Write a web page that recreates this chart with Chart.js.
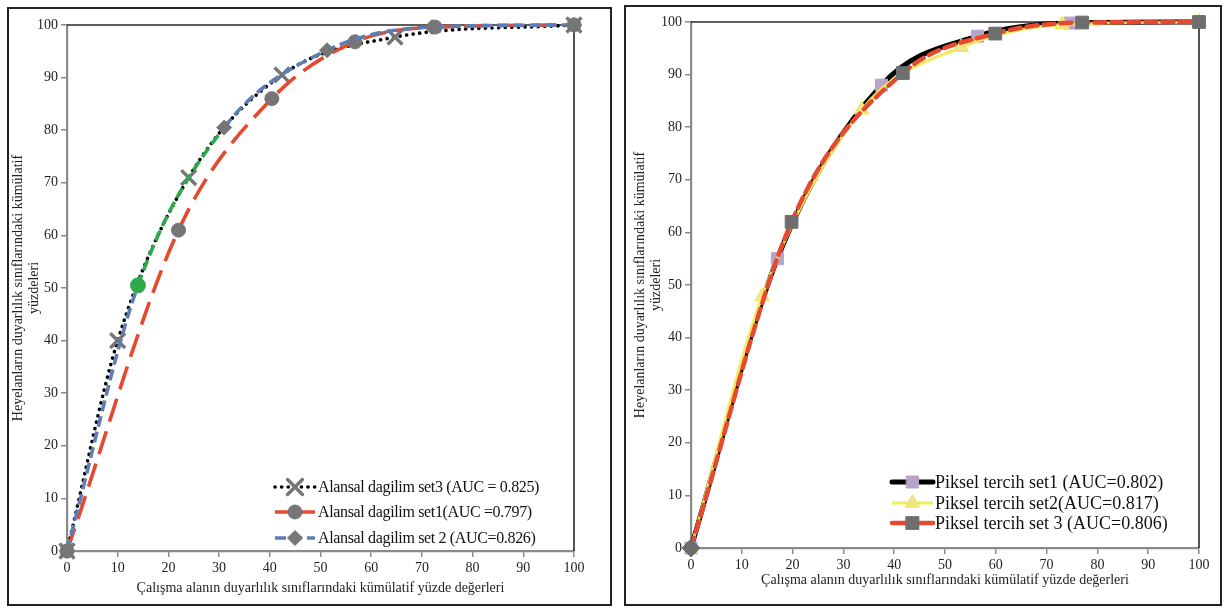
<!DOCTYPE html>
<html>
<head>
<meta charset="utf-8">
<script src="https://cdn.jsdelivr.net/npm/chart.js@4.4.0/dist/chart.umd.min.js"></script>
<style>
  body { margin: 0; background: #fff; width: 1225px; height: 608px; position: relative; overflow: hidden; }
  .panel { position: absolute; border: 2px solid #222; box-sizing: border-box; background: #fff; }
  #left { left: 7px; top: 7px; width: 605px; height: 599px; }
  #right { left: 624px; top: 5px; width: 598px; height: 601px; }
  .panel canvas { position: absolute; left: 0; top: 0; }
</style>
</head>
<body>
<div class="panel" id="left"><canvas id="c1"></canvas></div>
<div class="panel" id="right"><canvas id="c2"></canvas></div>
<script>
// tick values shared by both charts
const tickMin = 0;
const tickMax = 100;
const tickStep = 10;

const yTitleLines = ["Heyelanların duyarlılık sınıflarındaki kümülatif", "yüzdeleri"];
const xTitle = "Çalışma alanın duyarlılık sınıflarındaki kümülatif yüzde değerleri";

// left chart - Alansal dagilim
const leftLabels = ["Alansal dagilim set3 (AUC = 0.825)", "Alansal dagilim set1(AUC =0.797)", "Alansal dagilim set 2 (AUC=0.826)"];
const aSet3X = [0, 10, 24, 42.4, 64.7, 100];
const aSet3Y = [0, 40, 71, 90.5, 97.7, 100];
const aSet1X = [0, 22, 40.4, 56.8, 72.6, 100];
const aSet1Y = [0, 61, 86, 96.8, 99.6, 100];
const aSet2X = [0, 14, 31, 51.3, 72, 100];
const aSet2Y = [0, 50.5, 80.5, 95.2, 99.6, 100];

// right chart - Piksel tercih
const rightLabels = ["Piksel tercih set1 (AUC=0.802)", "Piksel tercih set2(AUC=0.817)", "Piksel tercih set 3 (AUC=0.806)"];
const pSet1X = [0, 17, 37.5, 56.4, 74.7, 100];
const pSet1Y = [0, 55, 88, 97.3, 99.8, 100];
const pSet2X = [0, 14, 33.6, 53.2, 73.1, 100];
const pSet2Y = [0, 47.8, 83.3, 95.2, 99.5, 100];
const pSet3X = [0, 19.8, 41.7, 59.9, 77, 100];
const pSet3Y = [0, 62, 90.3, 97.8, 99.9, 100];

const serif = "'Liberation Serif', 'Times New Roman', serif";
const axisGray = "#8a8a8a";
const red = "#e5492f";
const blue = "#5f7db5";
const green = "#2fa84c";
const markerGray = "#767676";

function pts(xs, ys) {
  return xs.map((x, i) => ({ x: x, y: ys[i] }));
}

// top + right frame of the plot area, drawn in black
const frameLines = {
  id: "frameLines",
  beforeDatasetsDraw(chart) {
    const a = chart.chartArea;
    const ctx = chart.ctx;
    ctx.save();
    ctx.strokeStyle = "#2a2a2a";
    ctx.lineWidth = 1.6;
    ctx.beginPath();
    ctx.moveTo(a.left, a.top);
    ctx.lineTo(a.right, a.top);
    ctx.lineTo(a.right, a.bottom);
    ctx.stroke();
    ctx.restore();
  }
};

// legend drawn inside the plot area, like the original figure
const insideLegend = {
  id: "insideLegend",
  afterDraw(chart, args, opts) {
    const ctx = chart.ctx;
    const a = chart.chartArea;
    ctx.save();
    chart.data.datasets.forEach((ds, i) => {
      const y = a.bottom + opts.rows[i];
      const x0 = a.left + opts.lineFrom;
      const x1 = a.left + opts.lineTo;
      ctx.strokeStyle = ds.borderColor;
      ctx.lineWidth = ds.borderWidth;
      ctx.lineCap = ds.borderCapStyle || "butt";
      ctx.setLineDash(ds.legendDash || ds.borderDash || []);
      ctx.beginPath();
      ctx.moveTo(x0, y);
      ctx.lineTo(x1, y);
      ctx.stroke();
      ctx.setLineDash([]);
      const style = Array.isArray(ds.pointStyle) ? ds.pointStyle[0] : ds.pointStyle;
      const bg = Array.isArray(ds.pointBackgroundColor) ? ds.pointBackgroundColor[0] : ds.pointBackgroundColor;
      const bc = Array.isArray(ds.pointBorderColor) ? ds.pointBorderColor[0] : ds.pointBorderColor;
      ctx.fillStyle = bg;
      ctx.strokeStyle = bc;
      ctx.lineWidth = ds.pointBorderWidth;
      Chart.helpers.drawPoint(ctx, { pointStyle: ds.legendStyle || style, radius: ds.pointRadius, rotation: 0, borderWidth: ds.pointBorderWidth }, (x0 + x1) / 2, y);
      ctx.fillStyle = "#111";
      ctx.font = opts.font;
      if ("letterSpacing" in ctx) ctx.letterSpacing = opts.spacing || "0px";
      ctx.textAlign = "left";
      ctx.textBaseline = "middle";
      ctx.fillText(ds.label, a.left + opts.textX, y + 1);
      if ("letterSpacing" in ctx) ctx.letterSpacing = "0px";
    });
    ctx.restore();
  }
};

function scales(yWidth, xHeight, yTitlePad) {
  const tickFont = { family: serif, size: 14 };
  const titleFont = { family: serif, size: 14, lineHeight: 1.1 };
  const grid = { drawOnChartArea: false, drawTicks: true, tickLength: 6, color: axisGray, lineWidth: 1.5 };
  const border = { color: axisGray, width: 2.2 };
  return {
    x: {
      type: "linear", min: tickMin, max: tickMax,
      ticks: { stepSize: tickStep, font: tickFont, color: "#1e1e1e", padding: 3, maxRotation: 0 },
      grid: grid, border: border,
      title: { display: true, text: xTitle, font: titleFont, color: "#222", padding: { top: 0, bottom: 2.6 } },
      afterFit(s) { s.height = xHeight; }
    },
    y: {
      type: "linear", min: tickMin, max: tickMax,
      ticks: { stepSize: tickStep, font: tickFont, color: "#1e1e1e", padding: 3 },
      grid: grid, border: border,
      title: { display: true, text: yTitleLines, font: titleFont, color: "#222", padding: { top: yTitlePad, bottom: 0 } },
      afterFit(s) { s.width = yWidth; }
    }
  };
}

const common = {
  responsive: false,
  animation: false,
  plugins: { legend: { display: false }, tooltip: { enabled: false } }
};

function sizeCanvas(id, w, h) {
  const c = document.getElementById(id);
  c.width = w; c.height = h;
  c.style.width = w + "px"; c.style.height = h + "px";
  return c;
}

// left chart
const c1 = sizeCanvas("c1", 601, 595);
new Chart(c1.getContext("2d"), {
  type: "line",
  data: {
    datasets: [
      {
        label: leftLabels[0], data: pts(aSet3X, aSet3Y),
        borderColor: "#000", borderWidth: 3.6, borderDash: [0.1, 6.5], borderCapStyle: "round",
        pointStyle: "crossRot", pointRadius: 10.5, pointBorderWidth: 3.4,
        pointBackgroundColor: markerGray, pointBorderColor: markerGray,
        cubicInterpolationMode: "monotone", clip: false, order: 3
      },
      {
        label: leftLabels[1], data: pts(aSet1X, aSet1Y),
        borderColor: red, borderWidth: 3.6, borderDash: [24, 10], legendDash: [],
        pointStyle: "circle", pointRadius: 7, pointBorderWidth: 1,
        pointBackgroundColor: markerGray, pointBorderColor: markerGray,
        cubicInterpolationMode: "monotone", clip: false, order: 2
      },
      {
        label: leftLabels[2], data: pts(aSet2X, aSet2Y),
        borderColor: blue, borderWidth: 3.6, borderDash: [11, 5],
        segment: { borderColor: ctx => ctx.p0DataIndex === 1 ? green : undefined },
        pointStyle: ["rectRot", "circle", "rectRot", "rectRot", "rectRot", "rectRot"], pointRadius: 7.5, pointBorderWidth: 1,
        pointBackgroundColor: [markerGray, green, markerGray, markerGray, markerGray, markerGray],
        pointBorderColor: [markerGray, green, markerGray, markerGray, markerGray, markerGray],
        cubicInterpolationMode: "monotone", clip: false, order: 1
      }
    ]
  },
  options: Object.assign({}, common, {
    layout: { padding: { left: 0, top: 16, right: 36, bottom: 5 } },
    scales: scales(58, 48, 2),
    plugins: Object.assign({}, common.plugins, {
      insideLegend: { rows: [-64, -39, -13], lineFrom: 208, lineTo: 248, textX: 251, font: "16px " + serif, spacing: "-0.35px" }
    })
  }),
  plugins: [frameLines, insideLegend]
});

// right chart
const c2 = sizeCanvas("c2", 594, 597);
new Chart(c2.getContext("2d"), {
  type: "line",
  data: {
    datasets: [
      {
        label: rightLabels[0], data: pts(pSet1X, pSet1Y),
        borderColor: "#000", borderWidth: 5, borderCapStyle: "round",
        pointStyle: "rect", pointRadius: 8.5, pointBorderWidth: 1,
        pointBackgroundColor: "#b9a4c9", pointBorderColor: "#b9a4c9",
        cubicInterpolationMode: "monotone", clip: false, order: 3
      },
      {
        label: rightLabels[1], data: pts(pSet2X, pSet2Y),
        borderColor: "#f2ea5a", borderWidth: 3,
        pointStyle: "triangle", pointRadius: 8.5, pointBorderWidth: 1,
        pointBackgroundColor: "#efe487", pointBorderColor: "#f2ea5a",
        cubicInterpolationMode: "monotone", clip: false, order: 2
      },
      {
        label: rightLabels[2], data: pts(pSet3X, pSet3Y),
        borderColor: red, borderWidth: 4.5, borderDash: [11, 6], legendDash: [], borderCapStyle: "round",
        pointStyle: ["rectRot", "rect", "rect", "rect", "rect", "rect"], legendStyle: "rect", pointRadius: 9, pointBorderWidth: 1,
        pointBackgroundColor: "#6e6e6e", pointBorderColor: "#6e6e6e",
        cubicInterpolationMode: "monotone", clip: false, order: 1
      }
    ]
  },
  options: Object.assign({}, common, {
    layout: { padding: { left: 0, top: 15, right: 21, bottom: 13 } },
    scales: scales(65, 43, 7),
    plugins: Object.assign({}, common.plugins, {
      insideLegend: { rows: [-66, -45, -25], lineFrom: 201, lineTo: 242, textX: 244, font: "18px " + serif, spacing: "0px" }
    })
  }),
  plugins: [frameLines, insideLegend]
});
</script>
</body>
</html>
